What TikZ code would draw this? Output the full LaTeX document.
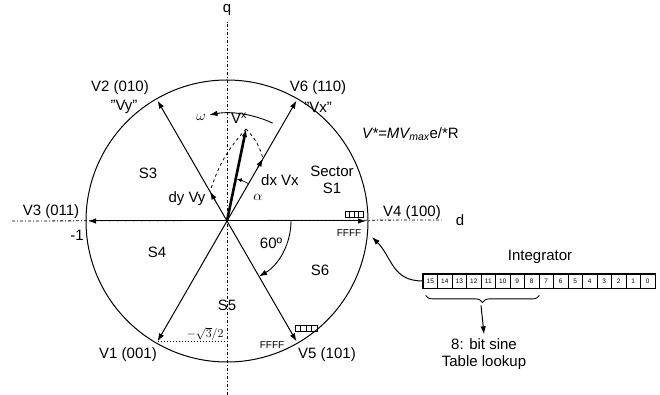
\documentclass[tikz,border=0pt]{standalone}
\usepackage{fontspec}
\setmainfont{Liberation Sans}
\usepackage{tikz}
\usetikzlibrary{arrows.meta,positioning,calc,decorations.pathreplacing}

\begin{document}
\begin{tikzpicture}[x=1pt,y=1pt,>={Latex[length=8pt,width=5.5pt]},
  lbl/.style={font=\fontsize{15}{17}\selectfont,inner sep=0pt},
  small/.style={font=\fontsize{10}{11}\selectfont,inner sep=0pt},
  axisline/.style={line width=.8pt,dash pattern=on 3pt off 2pt on 1pt off 2pt},
  vec/.style={->,line width=1pt},
  bitbox/.style={draw,line width=.8pt,minimum width=14.5pt,minimum height=14pt,
    inner sep=0pt,font=\fontsize{6.5}{7}\selectfont}]
  \useasboundingbox (0,0) rectangle (660,395);
  \coordinate (O) at (227,174);
  % axes
  \node[lbl] (qlab) at (227,385) {q};
  \node[lbl] (dlab) at (460,175) {d};
  \coordinate (qbot) at (227,0);
  \coordinate (dleft) at (12,174);
  \draw[axisline] (qbot) -- ([yshift=-6pt]qlab.south);
  \draw[axisline] (dleft) -- ([xshift=-14pt]dlab.west);
  \draw[line width=1pt] (O) circle (141);
  % switching vectors
  \foreach \a/\n in {0/V4,60/V6,120/V2,180/V3,240/V1,300/V5}{
    \coordinate (\n) at ($(O)+(\a:139)$);
    \draw[vec] (O) -- (\n);
  }
  \node[lbl] (v2lab) at (120,307) {V2 (010)};
  \node[lbl] (vylab) at (124,288) {"Vy"};
  \node[lbl] (v6lab) at (318,307) {V6 (110)};
  \node[lbl] (vxlab) at (318,288) {"Vx"};
  \node[lbl] (v3lab) at (51,183) {V3 (011)};
  \node[lbl] (m1lab) at (77,160) {-1};
  \node[lbl] (v4lab) at (412,182) {V4 (100)};
  \node[lbl] (v1lab) at (128,40) {V1 (001)};
  \node[lbl] (v5lab) at (327,40) {V5 (101)};
  % sectors
  \node[lbl] (s3) at (148,222) {S3};
  \node[lbl,align=center] (s1) at (332,215) {Sector\\S1};
  \node[lbl] (s4) at (157,143) {S4};
  \node[lbl] (s6) at (320,125) {S6};
  \node[lbl] (s5) at (227,90) {S5};
  % reference vector
  \coordinate (Vs) at ($(O)+(78.3:94)$);
  \coordinate (dxp) at ($(O)+(60:72)$);
  \coordinate (dyp) at ($(O)+(120:34)$);
  \coordinate (dxq) at ($(O)+(60:62)$);
  \coordinate (dyq) at ($(O)+(120:24)$);
  \draw[->,line width=2.6pt] (O) -- (Vs);
  \draw[dashed,line width=.8pt] (Vs) to[bend left=14] (dxp);
  \draw[dashed,line width=.8pt] (Vs) to[bend right=12] (dyp);
  \draw[vec] (dxq) -- (dxp);
  \draw[vec] (dyq) -- (dyp);
  \node[lbl] (dxlab) at (280,215) {dx Vx};
  \node[lbl] (dylab) at (187,196) {dy Vy};
  \node[lbl] (vxsup) at (239,277) {V\textsuperscript{x}};
  \node[font=\fontsize{14}{16}\selectfont,inner sep=0pt] (wlab) at (201,278) {$\omega$};
  \node[font=\fontsize{14}{16}\selectfont,inner sep=0pt] (alab) at (258,198) {$\alpha$};
  \draw[->,line width=.9pt] ($(O)+(65:108)$) arc[start angle=65,end angle=100,radius=106];
  \draw[->,line width=.7pt,>={Latex[length=5pt,width=4pt]}] ($(O)+(60:43)$) arc[start angle=60,end angle=77,radius=43];
  \node[lbl,anchor=west] (vform) at (362,261)
    {\textit{V*=MV\textsubscript{max}}e/*R};
  % angle between sectors
  \draw[->,line width=.9pt] ($(O)+(0:64)$) arc[start angle=0,end angle=-60,radius=64];
  \node[lbl] (ang) at (271,152) {60º};
  \coordinate (axV1) at (V1 -| O);
  \draw[dotted,line width=1pt] (V1) -- (axV1);
  \node[font=\fontsize{12}{14}\selectfont,inner sep=0pt] (r3lab) at (205,61) {$-\sqrt{3}/2$};
  % counter marks
  \foreach \i in {0,...,3}{
    \draw[line width=.9pt] (345+\i*4.5,178) rectangle +(4.5,6);
    \draw[line width=.9pt] (295+\i*5.5,64) rectangle +(5.5,6);
  }
  \node[small] (ff4) at (349,162) {FFFF};
  \node[small] (ff5) at (272,50) {FFFF};
  % integrator register
  \foreach \b [count=\i from 0] in {15,14,...,0}
    \node[bitbox] (b\b) at (430.25+\i*14.5,114) {\b};
  \draw[line width=1.2pt] (b15.north west) rectangle (b0.south east);
  \node[lbl] (intlab) at (540,138) {Integrator};
  \draw[decorate,decoration={brace,mirror,amplitude=7pt},line width=.9pt]
    ([shift={(3,-7)}]b15.south west) -- ([yshift=-7]b8.south east);
  \coordinate (brTip) at ($(b15.south west)!.5!(b8.south east)+(0,-17)$);
  \node[lbl,align=center] (sine) at (484,41) {8: bit sine\\Table lookup};
  \draw[->,line width=1pt] (brTip) -- ([yshift=4pt]sine.north);
  \coordinate (intgt) at (372,158);
  \draw[->,line width=1pt] (b15.west) .. controls (392,114) and (392,138) .. (intgt);
\end{tikzpicture}
\end{document}
